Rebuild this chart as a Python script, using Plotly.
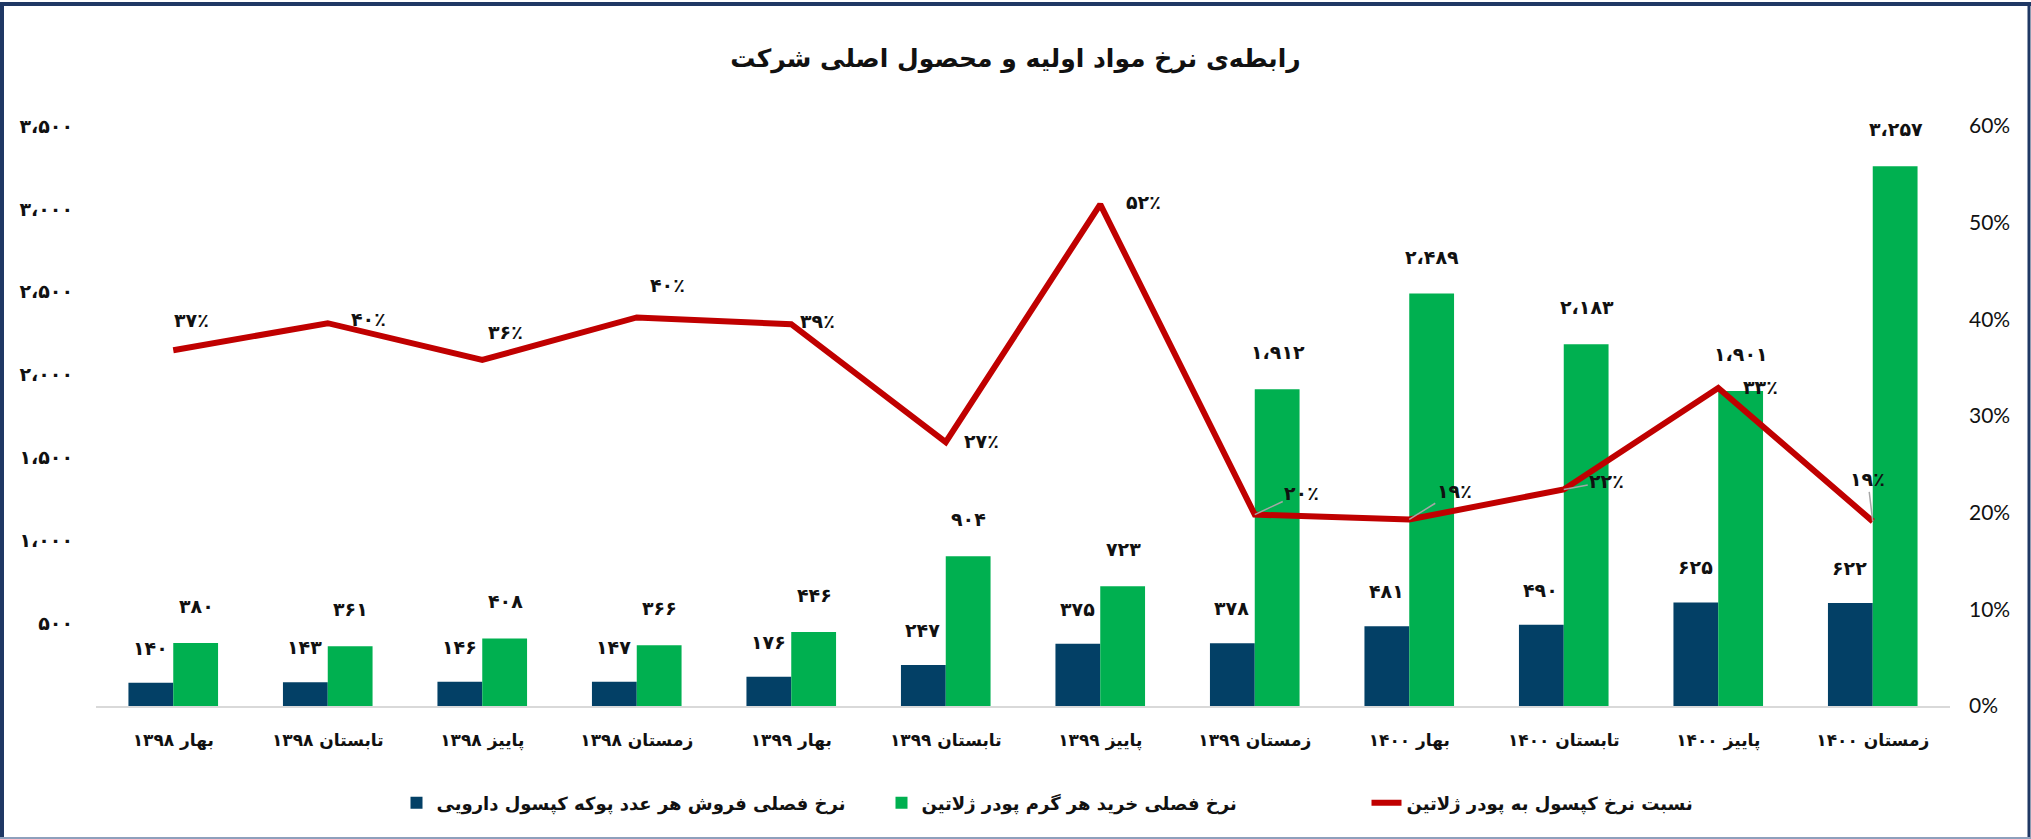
import plotly.graph_objects as go

categories = ["بهار ۱۳۹۸", "تابستان ۱۳۹۸", "پاییز ۱۳۹۸", "زمستان ۱۳۹۸",
              "بهار ۱۳۹۹", "تابستان ۱۳۹۹", "پاییز ۱۳۹۹", "زمستان ۱۳۹۹",
              "بهار ۱۴۰۰", "تابستان ۱۴۰۰", "پاییز ۱۴۰۰", "زمستان ۱۴۰۰"]
capsule_price = [140, 143, 146, 147, 176, 247, 375, 378, 481, 490, 625, 622]
gelatin_price = [380, 361, 408, 366, 446, 904, 723, 1912, 2489, 2183, 1901, 3257]
ratio = [0.368, 0.396, 0.358, 0.402, 0.395, 0.273, 0.519, 0.198, 0.193, 0.224, 0.329, 0.191]
ratio_labels = ["۳۷٪", "۴۰٪", "۳۶٪", "۴۰٪", "۳۹٪", "۲۷٪", "۵۲٪", "۲۰٪", "۱۹٪", "۲۲٪", "۳۳٪", "۱۹٪"]
left_ticks = [500, 1000, 1500, 2000, 2500, 3000, 3500]

name_capsule = "نرخ فصلی فروش هر عدد پوکه کپسول دارویی"
name_gelatin = "نرخ فصلی خرید هر گرم پودر ژلاتین"
name_ratio = "نسبت نرخ کپسول به پودر ژلاتین"
title = "رابطه‌ی نرخ مواد اولیه و محصول اصلی شرکت"

FA = "۰۱۲۳۴۵۶۷۸۹"


def fa(n):
    s = f"{n:,}".replace(",", "،")
    return "".join(FA[int(c)] if c.isdigit() else c for c in s)


W, H = 2031, 839
ML, MR, MT, MB = 96, 81, 126, 133
PW, PH = W - ML - MR, H - MT - MB


def px(x):
    return (x - ML) / PW


def py(y):
    return 1 - (y - MT) / PH


NAVY = "#034066"
GREEN = "#00B050"
RED = "#C00000"
FONT = "DejaVu Sans"
TXT = "#111111"

fig = go.Figure()
fig.add_trace(go.Bar(x=categories, y=capsule_price, name=name_capsule,
                     marker=dict(color=NAVY, line=dict(width=0))))
fig.add_trace(go.Bar(x=categories, y=gelatin_price, name=name_gelatin,
                     marker=dict(color=GREEN, line=dict(width=0))))
fig.add_trace(go.Scatter(x=categories, y=ratio, name=name_ratio, yaxis="y2",
                         mode="lines", line=dict(color=RED, width=6)))

ann = []
for c, v in zip(categories, capsule_price):
    ann.append(dict(x=c, y=v, xref="x", yref="y", text="<b>" + fa(v) + "</b>",
                    showarrow=False, xshift=-23, yshift=35, yanchor="middle",
                    font=dict(family=FONT, size=19, color=TXT)))
for c, v in zip(categories, gelatin_price):
    ann.append(dict(x=c, y=v, xref="x", yref="y", text="<b>" + fa(v) + "</b>",
                    showarrow=False, xshift=23, yshift=37, yanchor="middle",
                    font=dict(family=FONT, size=19, color=TXT)))

offs = [(18, 30), (41, 4), (23, 28), (31, 32), (26, 3), (36, 1), (43, 2),
        (47, 22), (45, 28), (43, 8), (42, 1), (-5, 42)]
arrows = [False] * 7 + [True, True, True, False, True]
for c, v, t, (dx, dy), a in zip(categories, ratio, ratio_labels, offs, arrows):
    if a:
        ann.append(dict(x=c, y=v, xref="x", yref="y2", text="<b>" + t + "</b>", showarrow=True,
                        ax=dx, ay=-dy, arrowhead=0, arrowwidth=1.5,
                        arrowcolor="#A6A6A6", standoff=0,
                        font=dict(family=FONT, size=19, color=TXT)))
    else:
        ann.append(dict(x=c, y=v, xref="x", yref="y2", text="<b>" + t + "</b>", showarrow=False,
                        xshift=dx, yshift=dy, yanchor="middle",
                        font=dict(family=FONT, size=19, color=TXT)))

shapes = [
    dict(type="line", xref="paper", yref="paper", x0=px(2), x1=px(2), y0=py(3), y1=py(838),
         line=dict(color="#1F3864", width=4)),
    dict(type="line", xref="paper", yref="paper", x0=px(2029), x1=px(2029), y0=py(3), y1=py(838),
         line=dict(color="#1F3864", width=3)),
    dict(type="line", xref="paper", yref="paper", x0=px(0), x1=px(2031), y0=py(4), y1=py(4),
         line=dict(color="#1F3864", width=4)),
    dict(type="line", xref="paper", yref="paper", x0=px(0), x1=px(2031), y0=py(838), y1=py(838),
         line=dict(color="#8EA0BC", width=2)),
]

fig.update_layout(
    width=W, height=H,
    margin=dict(l=ML, r=MR, t=MT, b=MB, pad=0),
    paper_bgcolor="white", plot_bgcolor="white",
    barmode="group", bargap=0.42, bargroupgap=0,
    title=dict(text="<b>" + title + "</b>", x=0.5, xanchor="center",
               y=1 - 58 / H, yanchor="middle",
               font=dict(family=FONT, size=25, color=TXT)),
    font=dict(family=FONT, size=16, color=TXT),
    xaxis=dict(showline=True, linecolor="#D9D9D9", linewidth=2, showgrid=False,
               ticks="", ticklabelstandoff=18,
               tickfont=dict(family=FONT, size=17, color=TXT),
               tickvals=categories, ticktext=["<b>" + c + "</b>" for c in categories]),
    yaxis=dict(range=[0, 3500], showgrid=False, zeroline=False, showline=False,
               tickvals=left_ticks, ticktext=["<b>" + fa(v) + "</b>" for v in left_ticks],
               ticklabelstandoff=22,
               tickfont=dict(family=FONT, size=19, color=TXT)),
    yaxis2=dict(range=[0, 0.6], overlaying="y", side="right", showgrid=False,
                zeroline=False, showline=False, tickformat=".0%", dtick=0.1,
                ticklabelstandoff=18,
                tickfont=dict(family="Lato", size=21, color=TXT)),
    legend=dict(orientation="h", x=0.5 + 101 / PW, xanchor="center", y=-(803 - (H - MB)) / PH,
                yanchor="middle", entrywidth=440, entrywidthmode="pixels",
                font=dict(family=FONT, size=18, color=TXT), traceorder="normal"),
    annotations=ann, shapes=shapes, showlegend=True,
)
for tr in fig.data:
    tr.name = "<b>" + tr.name + "</b>"

fig.write_html("out.html", config={"displayModeBar": False},
               post_script="document.body.style.margin='0';document.body.style.overflow='hidden';")
